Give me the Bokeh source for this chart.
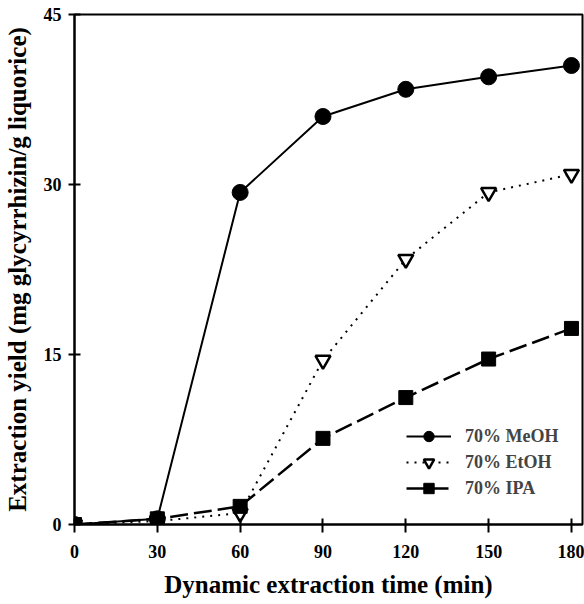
from bokeh.plotting import figure
from bokeh.models import Range1d, FixedTicker, Legend, LegendItem
from bokeh.embed import file_html
from bokeh.resources import INLINE

time_min = [0, 30, 60, 90, 120, 150, 180]
meoh = [0.0, 0.5, 29.3, 36.0, 38.4, 39.5, 40.5]
etoh = [0.0, 0.3, 1.0, 14.5, 23.4, 29.3, 30.9]
ipa = [0.0, 0.5, 1.6, 7.6, 11.2, 14.6, 17.3]
x_ticks = [0, 30, 60, 90, 120, 150, 180]
y_ticks = [0, 15, 30, 45]
series_names = ["70% MeOH", "70% EtOH", "70% IPA"]

FONT = "Liberation Serif"

p = figure(width=584, height=604, output_backend="svg", toolbar_location=None,
           x_range=Range1d(0, 184), y_range=Range1d(0, 45),
           min_border_left=74, min_border_right=2, min_border_top=14, min_border_bottom=80)

p.xgrid.visible = False
p.ygrid.visible = False
p.outline_line_color = "black"
p.outline_line_width = 2
p.background_fill_color = "white"

for ax in (p.xaxis[0], p.yaxis[0]):
    ax.axis_line_width = 2
    ax.major_tick_line_width = 2
    ax.minor_tick_line_color = None
    ax.major_label_text_font = FONT
    ax.major_label_text_font_style = "bold"
    ax.major_label_text_font_size = "18px"
    ax.major_label_text_color = "black"
    ax.axis_label_text_font = FONT
    ax.axis_label_text_font_style = "bold"
    ax.axis_label_text_font_size = "25px"
    ax.axis_label_text_color = "black"

p.xaxis.ticker = FixedTicker(ticks=x_ticks)
p.yaxis.ticker = FixedTicker(ticks=y_ticks)
p.xaxis.major_tick_in = 6
p.xaxis.major_tick_out = 8
p.yaxis.major_tick_in = 6
p.yaxis.major_tick_out = 6
p.xaxis.major_label_standoff = 12
p.yaxis.major_label_standoff = 7
p.xaxis.axis_label = "Dynamic extraction time (min)"
p.yaxis.axis_label = "Extraction yield (mg glycyrrhizin/g liquorice)"
p.xaxis.axis_label_standoff = 10
p.yaxis.axis_label_standoff = 10

l1 = p.line(time_min, meoh, line_color="black", line_width=2)
m1 = p.scatter(time_min, meoh, marker="circle", size=16, fill_color="black", line_color="black")
l2 = p.line(time_min, etoh, line_color="black", line_width=2, line_dash="2 6")
m2 = p.scatter(time_min, etoh, marker="inverted_triangle", size=15, fill_color="white",
               line_color="black", line_width=2.5)
l3 = p.line(time_min, ipa, line_color="black", line_width=2.5, line_dash="18 6")
m3 = p.scatter(time_min, ipa, marker="square", size=14, fill_color="black", line_color="black")

legend = Legend(items=[
    LegendItem(label=series_names[0], renderers=[l1, m1]),
    LegendItem(label=series_names[1], renderers=[l2, m2]),
    LegendItem(label=series_names[2], renderers=[l3, m3]),
], location=(322, 13))
legend.border_line_alpha = 0
legend.background_fill_alpha = 0
legend.label_text_font = FONT
legend.label_text_font_style = "bold"
legend.label_text_font_size = "18px"
legend.glyph_width = 45
legend.glyph_height = 26
legend.label_standoff = 14
legend.spacing = 0
p.add_layout(legend, "center")

open("out.html", "w").write(file_html(p, INLINE))
